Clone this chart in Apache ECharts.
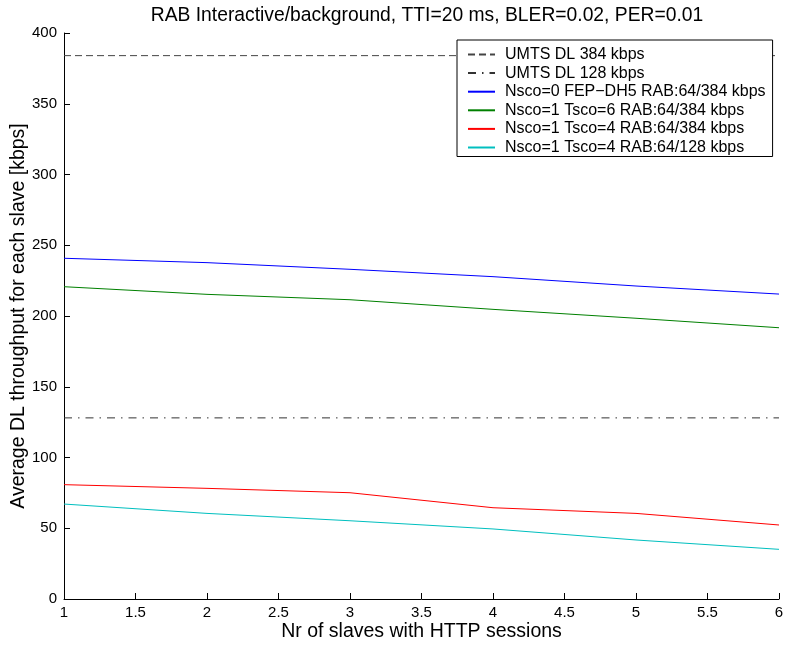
<!DOCTYPE html>
<html><head><meta charset="utf-8">
<script src="https://cdn.jsdelivr.net/npm/echarts@6/dist/echarts.min.js"></script>
<style>html,body{margin:0;padding:0;background:#fff}#c{width:785px;height:645px}</style>
</head><body><div id="c"></div>
<script>
const titleText = 'RAB Interactive/background, TTI=20 ms, BLER=0.02, PER=0.01';
const xLabel = 'Nr of slaves with HTTP sessions';
const yLabel = 'Average DL throughput for each slave [kbps]';
const slaves = [1, 2, 3, 4, 5, 6];
const refNames = ['UMTS DL 384 kbps', 'UMTS DL 128 kbps'];
const refLevels = [384, 128];
const seriesNames = [
  'Nsco=0 FEP\u2212DH5 RAB:64/384 kbps',
  'Nsco=1 Tsco=6 RAB:64/384 kbps',
  'Nsco=1 Tsco=4 RAB:64/384 kbps',
  'Nsco=1 Tsco=4 RAB:64/128 kbps'
];
const blueVals  = [240.8, 237.7, 233, 227.8, 221.2, 215.5];
const greenVals = [220.7, 215.3, 211.5, 204.7, 198.4, 191.7];
const redVals   = [80.8, 78.2, 75.1, 64.5, 60.5, 52.3];
const cyanVals  = [67.1, 60.5, 55.3, 49.5, 41.7, 35.1];

const font = 'Liberation Sans, Arial, Helvetica, sans-serif';
const refStyles = [
  {color: '#444', type: [7, 4]},
  {color: '#333', type: [8, 6, 1.5, 6]}
];
const lineColors = ['#0000ff', '#008000', '#ff0000', '#00bfbf'];
const lineVals = [blueVals, greenVals, redVals, cyanVals];

const series = [];
refLevels.forEach((lv, i) => {
  series.push({
    name: refNames[i], type: 'line', symbol: 'none', animation: false,
    data: [[slaves[0], lv], [slaves[slaves.length - 1], lv]],
    lineStyle: {width: 1, color: refStyles[i].color, type: refStyles[i].type},
    itemStyle: {color: refStyles[i].color}, z: 1
  });
});
lineVals.forEach((vals, i) => {
  series.push({
    name: seriesNames[i], type: 'line', symbol: 'none', animation: false,
    data: slaves.map((x, j) => [x, vals[j]]),
    lineStyle: {width: 1, color: lineColors[i]},
    itemStyle: {color: lineColors[i]}, z: 2
  });
});

const chart = echarts.init(document.getElementById('c'), null, {renderer: 'canvas'});
chart.setOption({
  backgroundColor: '#fff',
  animation: false,
  title: {
    text: titleText, left: 422, top: 1, textAlign: 'center',
    textStyle: {fontFamily: font, fontSize: 19.3, fontWeight: 'normal', color: '#000'}
  },
  grid: {left: 64, right: 6, top: 33, bottom: 46, containLabel: false, outerBoundsMode: 'none'},
  legend: {
    orient: 'vertical', left: 457, top: 40,
    backgroundColor: '#fff', borderColor: '#000', borderWidth: 1, borderRadius: 0,
    padding: [6.5, 7, 1, 10],
    itemWidth: 27, itemHeight: 16, itemGap: 2.6,
    itemStyle: {opacity: 0},
    textStyle: {fontFamily: font, fontSize: 16, lineHeight: 16, color: '#000', padding: [0, 0, 0, 5]},
    data: refNames.concat(seriesNames)
  },
  xAxis: {
    type: 'value', min: 1, max: 6, interval: 0.5,
    name: xLabel, nameLocation: 'middle', nameGap: 23, nameMoveOverlap: false,
    nameTextStyle: {fontFamily: font, fontSize: 19.5, color: '#000'},
    axisLine: {show: true, lineStyle: {color: '#000', width: 1}},
    axisTick: {show: true, inside: true, length: 6, lineStyle: {color: '#000'}},
    axisLabel: {fontFamily: font, fontSize: 15, color: '#000', margin: 6},
    splitLine: {show: false}
  },
  yAxis: {
    type: 'value', min: 0, max: 400, interval: 50,
    name: yLabel, nameLocation: 'middle', nameGap: 35, nameMoveOverlap: false,
    nameTextStyle: {fontFamily: font, fontSize: 19.5, color: '#000'},
    axisLine: {show: true, lineStyle: {color: '#000', width: 1}},
    axisTick: {show: true, inside: true, length: 6, lineStyle: {color: '#000'}},
    axisLabel: {fontFamily: font, fontSize: 15, color: '#000', margin: 7},
    splitLine: {show: false}
  },
  series: series
});
</script>
</body></html>
